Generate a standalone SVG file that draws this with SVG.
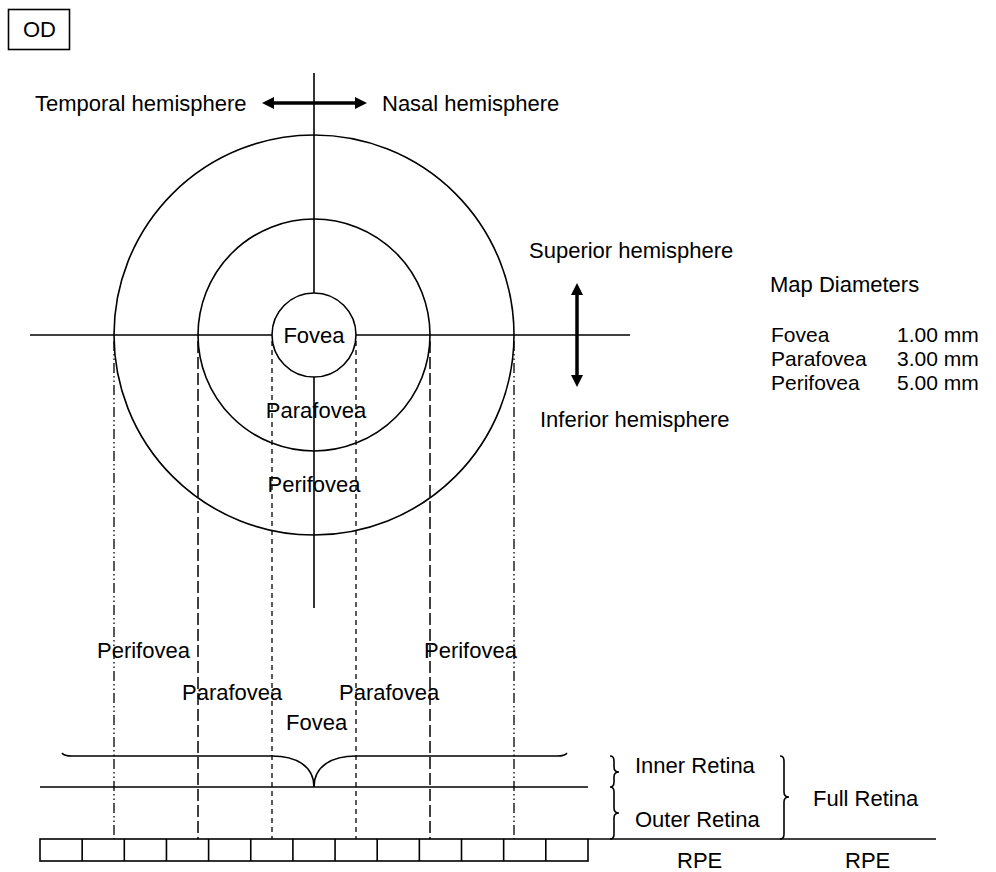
<svg xmlns="http://www.w3.org/2000/svg" width="996" height="872" viewBox="0 0 996 872">
<style>
text{font-family:"Liberation Sans",Arial,sans-serif;font-size:22px;fill:#000}
.sm{font-size:21px}
.ln{stroke:#000;stroke-width:1.6;fill:none}
.dd{stroke:#000;stroke-width:1.3;fill:none;stroke-dasharray:10 3 1.5 3 1.5 3}
.ld{stroke:#000;stroke-width:1.5;fill:none;stroke-dasharray:12 4}
.sd{stroke:#000;stroke-width:1.3;fill:none;stroke-dasharray:5 4}
.ar{stroke:#000;stroke-width:3.5;fill:none}
</style>
<rect width="996" height="872" fill="#fff"/>
<g id="od"><rect x="8.5" y="9.5" width="61" height="40" class="ln"/><text x="23" y="37">OD</text></g>
<g id="connectors">
<line x1="314" y1="73" x2="314" y2="293" class="ln"/>
<line x1="314" y1="377" x2="314" y2="608" class="ln"/>
<line x1="30" y1="335" x2="272" y2="335" class="ln"/>
<line x1="356" y1="335" x2="630" y2="335" class="ln"/>
<line x1="114" y1="341" x2="114" y2="839" class="dd"/>
<line x1="514" y1="341" x2="514" y2="839" class="dd"/>
<line x1="198" y1="341" x2="198" y2="839" class="ld"/>
<line x1="430" y1="341" x2="430" y2="839" class="ld"/>
<line x1="272" y1="341" x2="272" y2="839" class="sd"/>
<line x1="356" y1="341" x2="356" y2="839" class="sd"/>
<line x1="272" y1="103" x2="357" y2="103" class="ar"/>
<polygon points="262,103 274,97 274,109" fill="#000"/>
<polygon points="367,103 355,97 355,109" fill="#000"/>
<line x1="577" y1="293" x2="577" y2="377" class="ar"/>
<polygon points="577,283 571,295 583,295" fill="#000"/>
<polygon points="577,387 571,375 583,375" fill="#000"/>
</g>
<g id="circles">
<circle cx="314" cy="335" r="200" class="ln"/>
<circle cx="314" cy="335" r="116" class="ln"/>
<circle cx="314" cy="335" r="42" class="ln"/>
</g>
<g id="labels">
<text x="35" y="111">Temporal hemisphere</text>
<text x="382" y="111">Nasal hemisphere</text>
<text x="529" y="258">Superior hemisphere</text>
<text x="540" y="427">Inferior hemisphere</text>
<text x="314" y="343" text-anchor="middle">Fovea</text>
<text x="316" y="418" text-anchor="middle">Parafovea</text>
<text x="314" y="492" text-anchor="middle">Perifovea</text>
</g>
<g id="map">
<text x="770" y="292">Map Diameters</text>
<text class="sm" x="771" y="342">Fovea</text><text class="sm" x="897" y="342">1.00 mm</text>
<text class="sm" x="771" y="366">Parafovea</text><text class="sm" x="897" y="366">3.00 mm</text>
<text class="sm" x="771" y="390">Perifovea</text><text class="sm" x="897" y="390">5.00 mm</text>
</g>
<g id="bottom-labels">
<text x="97" y="658">Perifovea</text>
<text x="424" y="658">Perifovea</text>
<text x="182" y="700">Parafovea</text>
<text x="339" y="700">Parafovea</text>
<text x="286" y="730">Fovea</text>
</g>
<g id="retina">
<path d="M62,753 Q64,756 72,756 L272,756 C296,756 314,766 314,787 C314,766 332,756 356,756 L557,756 Q565,756 567,753" class="ln"/>
<line x1="40" y1="787" x2="588" y2="787" class="ln"/>
<line x1="588" y1="839" x2="936" y2="839" class="ln"/>
<path d="M610,756 Q614,756 614,761 L614,767 Q614,772 619,772 Q614,772 614,777 L614,782 Q614,787 610,787 Q614,787 614,792 L614,808 Q614,813 619,813 Q614,813 614,818 L614,834 Q614,839 610,839" class="ln"/>
<path d="M780,756 Q784,756 784,761 L784,792 Q784,797 789,797 Q784,797 784,802 L784,834 Q784,839 780,839" class="ln"/>
<text x="635" y="773">Inner Retina</text>
<text x="635" y="827">Outer Retina</text>
<text x="813" y="806">Full Retina</text>
<text x="677" y="868">RPE</text>
<text x="845" y="868">RPE</text>
</g>
<g id="rpe">
<rect x="40" y="839" width="548" height="22" class="ln"/>
<path d="M82.15,839V861M124.3,839V861M166.45,839V861M208.6,839V861M250.75,839V861M292.9,839V861M335.05,839V861M377.2,839V861M419.35,839V861M461.5,839V861M503.65,839V861M545.8,839V861" class="ln"/>
</g>
</svg>
